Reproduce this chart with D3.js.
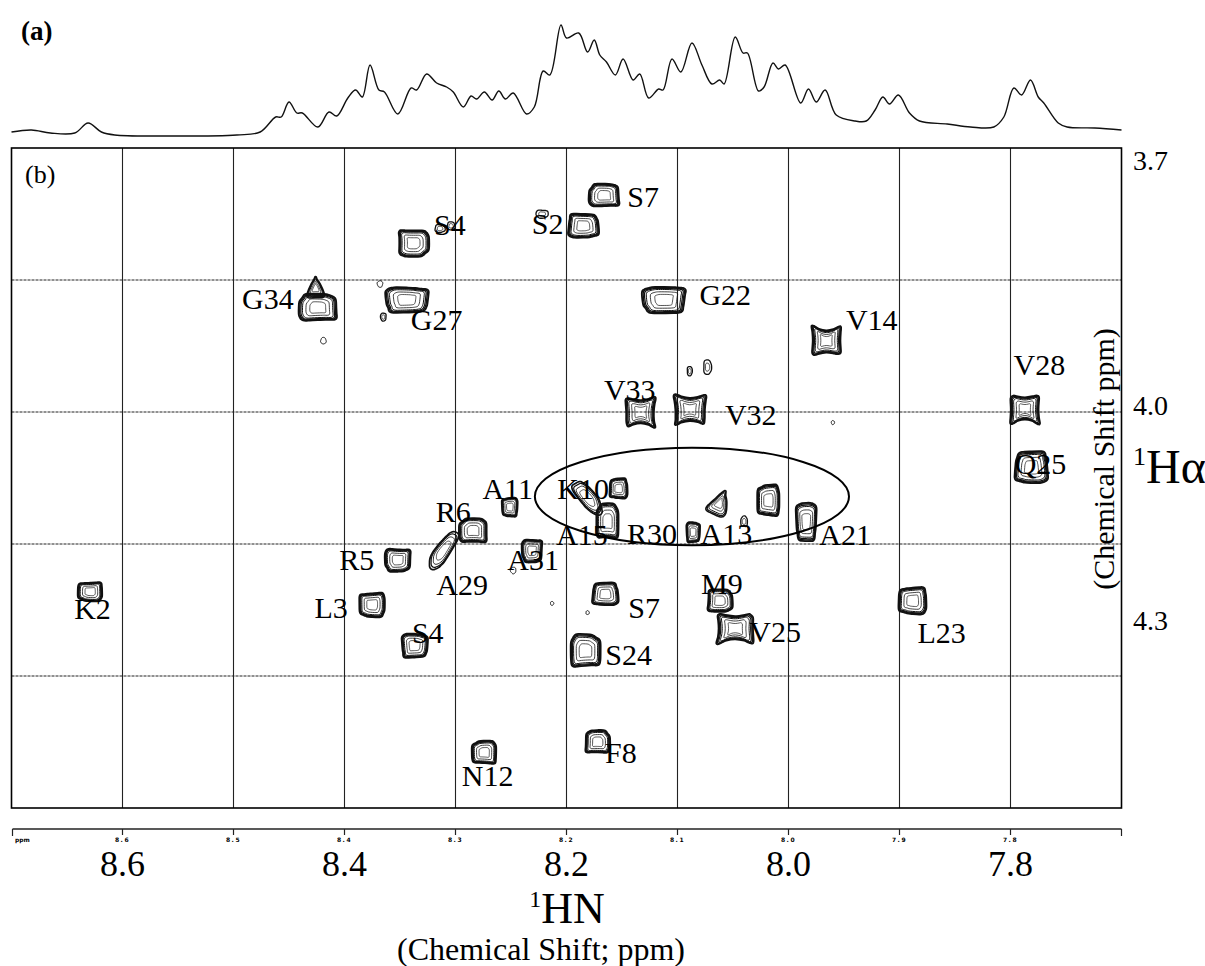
<!DOCTYPE html>
<html>
<head>
<meta charset="utf-8">
<script src="https://cdn.jsdelivr.net/npm/d3@7"></script>
<style>
  body { margin: 0; background: #fff; }
  text { font-family: "Liberation Serif", "Times New Roman", serif; fill: #000; }
</style>
</head>
<body>
<div id="chart"></div>
<script>
// (a) 1D projection: HN shift (ppm) and intensity (arb.)
const specPpm = [8.700,8.682,8.665,8.643,8.631,8.619,8.607,8.562,8.497,8.476,8.462,8.457,8.450,8.443,8.438,8.424,8.414,8.407,8.397,8.390,
  8.384,8.377,8.369,8.364,8.352,8.340,8.335,8.326,8.317,8.308,8.302,8.293,8.286,8.281,8.274,8.267,8.261,8.255,8.248,8.236,
  8.229,8.221,8.215,8.205,8.200,8.189,8.181,8.175,8.170,8.164,8.156,8.149,8.140,8.134,8.126,8.117,8.113,8.105,8.097,8.087,
  8.078,8.069,8.062,8.058,8.048,8.041,8.037,8.027,8.022,8.014,8.009,8.003,7.989,7.982,7.975,7.967,7.957,7.940,7.930,7.922,
  7.915,7.909,7.901,7.891,7.882,7.857,7.836,7.815,7.806,7.797,7.790,7.782,7.775,7.770,7.757,7.749,7.724,7.700];
const specInt = [8,10,7,7,17,8,5,4,5,8, 23,23,38,27,27,13,28,24,42,50, 43,75,50,48,26,52,50,66,57,53,
  48,33,44,41,48,40,49,41,47,26, 33,69,65,115,102,107,88,100,85,78, 65,81,60,66,42,51,50,81,68,97,
  75,56,60,56,103,87,87,49,53,77, 71,75,37,51,38,50,25,19,19,30, 43,36,45,27,19,16,13,13,23,52,
  45,60,43,37,17,13,12,10];

// (b) cross peaks: [HN ppm, Hα ppm, footprint HN ppm, footprint Hα ppm]
const peaks = [
  [8.338,3.872,0.027,0.020], [8.314,3.861,0.009,0.006], [8.304,3.859,0.007,0.006],
  [8.185,3.859,0.027,0.018], [8.222,3.850,0.011,0.006], [8.166,3.836,0.027,0.017],
  [8.424,3.921,0.034,0.020], [8.426,3.906,0.020,0.016], [8.419,3.946,0.005,0.005],
  [8.368,3.903,0.005,0.005], [8.344,3.915,0.038,0.019], [8.365,3.928,0.005,0.006],
  [8.112,3.915,0.038,0.020], [7.966,3.946,0.029,0.026], [8.089,3.969,0.0045,0.007],
  [8.073,3.966,0.007,0.011], [8.133,4.000,0.029,0.027], [8.089,3.998,0.031,0.027],
  [7.960,4.008,0.003,0.003], [7.787,3.998,0.029,0.026], [7.781,4.042,0.029,0.024],
  [8.251,4.072,0.014,0.014], [8.153,4.058,0.016,0.015], [8.181,4.065,0.036,0.012],
  [8.163,4.083,0.020,0.026], [8.086,4.091,0.012,0.015], [8.040,4.083,0.006,0.008],
  [8.062,4.069,0.023,0.020], [8.018,4.067,0.020,0.023], [7.984,4.083,0.018,0.029],
  [8.284,4.090,0.025,0.018], [8.311,4.105,0.040,0.011], [8.352,4.112,0.023,0.017],
  [8.231,4.105,0.018,0.017], [8.248,4.120,0.005,0.005], [8.629,4.136,0.022,0.014],
  [8.375,4.146,0.023,0.018], [8.337,4.177,0.023,0.018], [8.165,4.138,0.023,0.017],
  [8.213,4.145,0.003,0.003], [8.181,4.152,0.003,0.003], [8.183,4.181,0.027,0.024],
  [8.062,4.143,0.022,0.017], [8.048,4.164,0.036,0.027], [7.888,4.143,0.025,0.020],
  [8.274,4.258,0.022,0.017], [8.172,4.250,0.022,0.017]
];
// contour family of each peak (same order as peaks)
const peakKind = ["box","small","small","box","small","box",
  "box","tri","dot","dot","box","small",
  "box","bow","small","small","bow","bow",
  "dot","bow","box","box","box","rod",
  "box","box","small","tri","box","box",
  "box","rod","box","box","dot","box",
  "box","box","box","dot","dot","box",
  "box","bow","box","box","box"];
const peakTilt = {23: 50, 27: 25, 31: -55};

// assignments: [label, HN ppm, Hα ppm]
const labels = [
  ["S4",8.305,3.858], ["S2",8.217,3.857], ["S7",8.131,3.837], ["G34",8.469,3.914],
  ["G27",8.317,3.930], ["G22",8.057,3.911], ["V14",7.925,3.930], ["V33",8.143,3.983],
  ["V32",8.034,4.002], ["V28",7.774,3.964], ["Q25",7.773,4.039], ["A11",8.253,4.058],
  ["K10",8.185,4.058], ["A15",8.186,4.093], ["R30",8.123,4.092], ["A13",8.056,4.092],
  ["A21",7.949,4.093], ["R6",8.302,4.075], ["A29",8.294,4.131], ["R5",8.389,4.112],
  ["A31",8.230,4.112], ["K2",8.627,4.149], ["L3",8.412,4.148], ["S4",8.325,4.167],
  ["S7",8.130,4.148], ["S24",8.144,4.184], ["M9",8.060,4.130], ["V25",8.012,4.166],
  ["L23",7.862,4.167], ["N12",8.271,4.275], ["F8",8.151,4.258]
];

// marked region (ellipse): [HN centre, Hα centre, HN half-axis, Hα half-axis]
const region = [8.087, 4.064, 0.1415, 0.037];

const hnTicks = [8.6, 8.5, 8.4, 8.3, 8.2, 8.1, 8.0, 7.9, 7.8];
const hnBigTicks = [8.6, 8.4, 8.2, 8.0, 7.8];
const haGrid = [3.9, 4.0, 4.1, 4.2];
const haTickText = ["3.7", "4.0", "4.3"];
const haTickAt = [3.809, 3.995, 4.158];

const W = 1205, H = 966;
const x = d3.scaleLinear().domain([8.7, 7.7]).range([11.5, 1121.5]);
const y = d3.scaleLinear().domain([3.8, 4.3]).range([148, 808]);
const yS = d3.scaleLinear().domain([0, 115]).range([140, 25]);

const svg = d3.select('#chart').append('svg')
    .attr('width', W).attr('height', H)
    .style('background', '#fff');

// ---- (a) 1D trace
svg.append('path')
    .datum(d3.zip(specPpm, specInt))
    .attr('d', d3.line().x(d => x(d[0])).y(d => yS(d[1])).curve(d3.curveCatmullRom))
    .attr('fill', 'none').attr('stroke', '#111').attr('stroke-width', 1.4);

svg.append('text').attr('x', 21).attr('y', 40)
    .attr('font-size', 27).attr('font-weight', 'bold').text('(a)');

// ---- (b) grid
const grid = svg.append('g');
grid.selectAll('line.v').data(hnTicks).join('line')
    .attr('x1', d => x(d)).attr('x2', d => x(d))
    .attr('y1', y(3.8)).attr('y2', y(4.3))
    .attr('stroke', '#222').attr('stroke-width', 1.1);
grid.selectAll('line.h').data(haGrid).join('line')
    .attr('x1', x(8.7)).attr('x2', x(7.7))
    .attr('y1', d => y(d)).attr('y2', d => y(d))
    .attr('stroke', '#222').attr('stroke-width', 1).attr('stroke-dasharray', '3,1');
svg.append('rect')
    .attr('x', x(8.7)).attr('y', y(3.8))
    .attr('width', x(7.7) - x(8.7)).attr('height', y(4.3) - y(3.8))
    .attr('fill', 'none').attr('stroke', '#000').attr('stroke-width', 1.6);

svg.append('text').attr('x', 25).attr('y', 183)
    .attr('font-size', 26).text('(b)');

// ---- contours
const kinds = {
  box:   {pw: 4.5, pinch: 0.0, levels: [1, 0.94, 0.88, 0.8, 0.62, 0.42], widths: [1.8, 1.4, 1.2, 1, 0.8, 0.7]},
  bow:   {pw: 5,   pinch: 0.35, levels: [1, 0.94, 0.87, 0.78, 0.6, 0.4], widths: [1.8, 1.4, 1.2, 1, 0.8, 0.7]},
  tri:   {pw: 3,   tri: 0.85, levels: [1, 0.9, 0.78, 0.58, 0.38], widths: [1.6, 1.2, 1, 0.8, 0.7]},
  rod:   {pw: 2.4, levels: [1, 0.88, 0.72, 0.5], widths: [1.7, 1.2, 0.9, 0.7]},
  small: {pw: 2.5, levels: [1, 0.55], widths: [1.3, 0.8]},
  dot:   {pw: 2,   levels: [1], widths: [1]}
};

function outline(p, st, s, tilt) {
  const cx = x(p[0]), cy = y(p[1]);
  const a = Math.abs(x(p[0] + p[2] / 2) - cx), b = Math.abs(y(p[1] + p[3] / 2) - cy);
  const rot = (tilt || 0) * Math.PI / 180;
  const pts = d3.range(40).map(i => {
    const t = i / 40 * 2 * Math.PI, c = Math.cos(t), sn = Math.sin(t);
    let ex = Math.sign(c) * Math.pow(Math.abs(c), 2 / st.pw);
    let ey = Math.sign(sn) * Math.pow(Math.abs(sn), 2 / st.pw);
    if (st.pinch) {
      ey *= 1 - st.pinch * Math.pow(1 - Math.abs(c), 1.5);
      ex *= 1 - st.pinch * 0.4 * Math.pow(1 - Math.abs(sn), 1.5);
    }
    if (st.tri) ex *= 1 - st.tri * (1 - ey) / 2;
    const w = 1 + 0.05 * Math.sin(3 * t + p[0] * 50) + 0.03 * Math.sin(5 * t + p[1] * 70);
    const px = a * s * ex * w, py = b * s * ey * w;
    return [cx + px * Math.cos(rot) - py * Math.sin(rot), cy + px * Math.sin(rot) + py * Math.cos(rot)];
  });
  return d3.line().curve(d3.curveCatmullRomClosed)(pts);
}

const cg = svg.append('g');
peaks.forEach((p, i) => {
  const st = kinds[peakKind[i]];
  st.levels.forEach((s, k) => {
    cg.append('path')
        .attr('d', outline(p, st, s, peakTilt[i]))
        .attr('fill', 'none').attr('stroke', '#111')
        .attr('stroke-width', st.widths[k]);
  });
});

// marked region
svg.append('ellipse')
    .attr('cx', x(region[0])).attr('cy', y(region[1]))
    .attr('rx', Math.abs(x(region[0] + region[2]) - x(region[0])))
    .attr('ry', Math.abs(y(region[1] + region[3]) - y(region[1])))
    .attr('fill', 'none').attr('stroke', '#000').attr('stroke-width', 2);

// assignments
svg.append('g').selectAll('text').data(labels).join('text')
    .attr('x', d => x(d[1])).attr('y', d => y(d[2]))
    .attr('dy', '0.35em').attr('text-anchor', 'middle')
    .attr('font-size', 30).text(d => d[0]);

// ---- ppm ruler under the map
const rulerY = 829;
const ruler = svg.append('g');
ruler.append('line')
    .attr('x1', x(8.7) + 1).attr('x2', x(7.7))
    .attr('y1', rulerY).attr('y2', rulerY)
    .attr('stroke', '#222').attr('stroke-width', 1.3);
ruler.selectAll('line.t').data(hnTicks).join('line')
    .attr('x1', d => x(d)).attr('x2', d => x(d))
    .attr('y1', rulerY).attr('y2', rulerY + 6)
    .attr('stroke', '#222').attr('stroke-width', 1.2);
ruler.selectAll('line.e').data([8.7, 7.7]).join('line')
    .attr('x1', d => x(d) + (d > 8 ? 1 : 0)).attr('x2', d => x(d) + (d > 8 ? 1 : 0))
    .attr('y1', rulerY).attr('y2', rulerY + 7)
    .attr('stroke', '#222').attr('stroke-width', 1.2);
ruler.selectAll('text.s').data(hnTicks).join('text')
    .attr('x', d => x(d)).attr('y', rulerY + 13)
    .attr('text-anchor', 'middle').attr('font-size', 6).attr('font-weight', 'bold')
    .style('font-family', 'DejaVu Sans, sans-serif').attr('letter-spacing', 1.5)
    .text(d => d.toFixed(1));
ruler.append('text').attr('x', 15).attr('y', rulerY + 13)
    .attr('font-size', 6).attr('font-weight', 'bold')
    .style('font-family', 'DejaVu Sans, sans-serif').text('ppm');
ruler.selectAll('text.b').data(hnBigTicks).join('text')
    .attr('x', d => x(d)).attr('y', 876)
    .attr('text-anchor', 'middle').attr('font-size', 36)
    .text(d => d.toFixed(1));

// axis titles
const hn = svg.append('text').attr('x', 567).attr('y', 923).attr('text-anchor', 'middle');
hn.append('tspan').attr('font-size', 24).attr('dy', -16).text('1');
hn.append('tspan').attr('font-size', 44).attr('dy', 16).text('HN');
svg.append('text').attr('x', 541).attr('y', 960).attr('text-anchor', 'middle')
    .attr('font-size', 32).text('(Chemical Shift; ppm)');

// right side
svg.append('g').selectAll('text').data(haTickText).join('text')
    .attr('x', 1133).attr('y', (d, i) => y(haTickAt[i])).attr('dy', '0.35em')
    .attr('font-size', 28).text(d => d);
const ha = svg.append('text').attr('x', 1133).attr('y', 483);
ha.append('tspan').attr('font-size', 26).attr('dy', -18).text('1');
ha.append('tspan').attr('font-size', 48).attr('dy', 18).text('Hα');
svg.append('text')
    .attr('transform', 'translate(1114,459) rotate(-90)')
    .attr('text-anchor', 'middle').attr('font-size', 30)
    .text('(Chemical Shift ppm)');
</script>
</body>
</html>
